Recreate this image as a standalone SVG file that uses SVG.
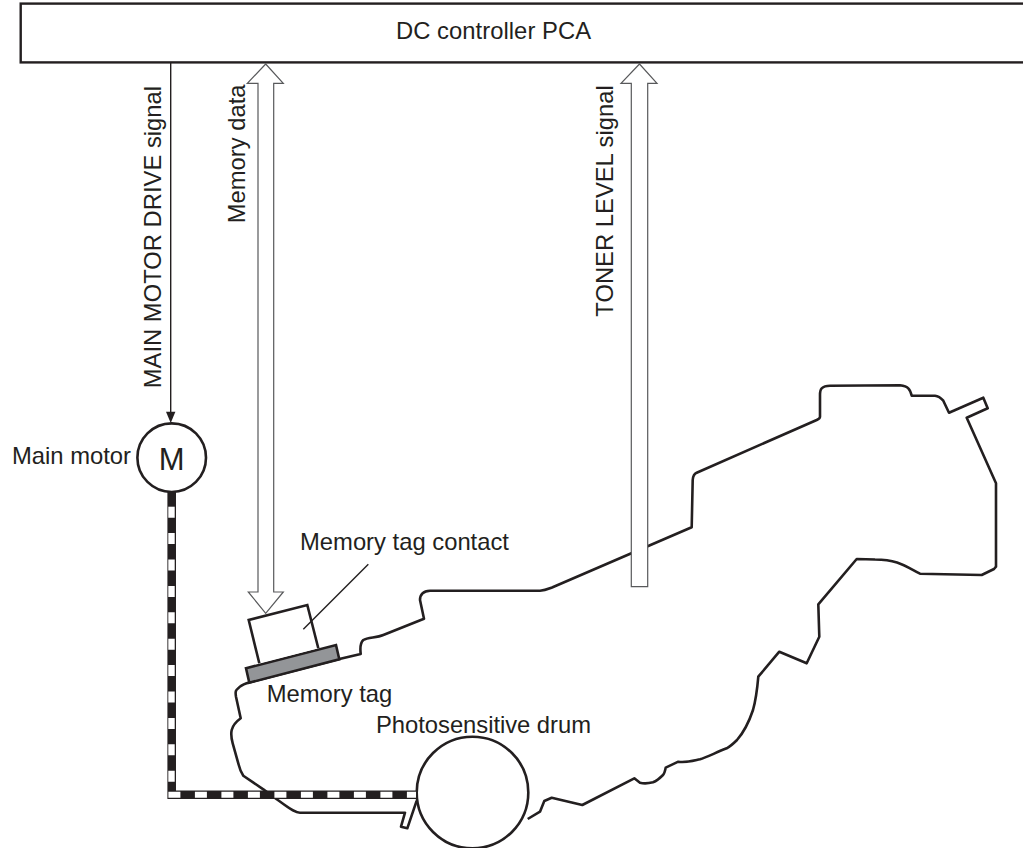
<svg xmlns="http://www.w3.org/2000/svg" width="1023" height="848" viewBox="0 0 1023 848">
<style>
text{font-family:"Liberation Sans",Arial,sans-serif;font-size:23.8px;fill:#231f20}
.ol{fill:none;stroke:#231f20;stroke-width:2.6;stroke-linejoin:round}
.hollow{fill:#fff;stroke:#58595b;stroke-width:1.2}
</style>
<rect width="1023" height="848" fill="#fff"/>
<g id="controller"><rect x="20.7" y="3.6" width="1010" height="58.8" fill="#fff" stroke="#231f20" stroke-width="2.4"/><text x="396" y="39.3" textLength="195">DC controller PCA</text></g>
<g id="cartridge"><path class="ol" d="M416.7,800.7L407.3,828.3L401,826.7L405,812.7H300C294,812.7 288,807 276.7,799.3L263.3,789.3L243.3,775.7C240,771 239,766 238.3,763.3L232.7,743.3C231,737 231,733 231.7,730C233,725 237,721 240.7,718.3L236,696.7C235,691 236,690 238.3,688.3C241,685 245,684 248.3,682.7L338.3,659.3L360.7,654C360,648 360,643 363.3,640C368,637 376,638 383.3,635L424,618.7L420,600C420,594 424,591 430,590.7H540C545,590.5 547,589.5 552,587.5L691.7,527.3L692.7,480C693,476 694,474 696.7,472.7L816.7,420C819,419 820,418 820,416.7V395C820,391 820.5,389.5 821.7,388.3C824,386 827,385.7 830,385.7L900,385.3C905,386 907,387 908.3,388.3C910,390 911,393 911.7,395.7H935C939,396 941,398 943.3,400.7L949,412.7L983.3,397.7L987.7,408.3L966.7,417.7L996,483.3V566.7L994,569L981.7,575L920,573.7C905,566 898,559.5 875,559.5L856.7,559L818.3,604.3L819.3,636.7L806.7,663.3L779.3,651.7L758.3,676.7C757,692 755,703 753,710C749,722 744,732 737,740C733,744 730,746.5 726.7,748.3C715,753 706,757.5 700,759.3C692,761 685,763 678.3,761.7L665.7,767.7C665,771 664,774 663,775C659,779 655,781.5 653,782.3C648,783.5 643,783.5 640,782.7L634.3,778.3L582.3,805L551.7,797.7L544.3,801L540,811.7L527.7,819"/></g>
<g id="drum"><circle cx="472.5" cy="792.5" r="55.8" fill="#fff" stroke="#231f20" stroke-width="2.6"/><text x="376" y="733.3" textLength="215">Photosensitive drum</text></g>
<g id="memory-tag"><path d="M246,668.3L336,645L339.3,659.3L249.3,682.7Z" fill="#939598" stroke="#231f20" stroke-width="2.6" stroke-linejoin="miter"/><text x="266.7" y="701.7">Memory tag</text></g>
<g id="memory-tag-contact"><path d="M259.3,663.3L248.7,620L307.3,605L318.3,648.3" fill="#fff" stroke="#231f20" stroke-width="2.6"/><text x="300" y="550">Memory tag contact</text></g>
<g id="main-motor"><circle cx="171.7" cy="457.7" r="34.3" fill="#fff" stroke="#231f20" stroke-width="2.6"/><text x="171.7" y="470" text-anchor="middle" style="font-size:31px">M</text><text x="12" y="464.3">Main motor</text></g>
<g id="connectors">
<path d="M171.7,492V794.7H417" fill="none" stroke="#231f20" stroke-width="8.6"/>
<path d="M171.5,506.7V789" fill="none" stroke="#fff" stroke-width="6.4" stroke-dasharray="11 15.4"/>
<path d="M168.4,794.7H416" fill="none" stroke="#fff" stroke-width="6" stroke-dasharray="12 14.5"/>
<path d="M170.7,62V412" fill="none" stroke="#231f20" stroke-width="1.4"/>
<path d="M166,411.7H175.4L170.7,423Z" fill="#231f20"/>
<path class="hollow" d="M265.7,64L283.3,83.3H273.7V592H283.3L265.7,613.3L248.3,592H258V83.3H247.3Z"/>
<path class="hollow" d="M639.5,64L657,83.3H647.7V586.7H631.3V83.3H621Z"/>
<path d="M368.3,564.3L303.3,629.3" fill="none" stroke="#231f20" stroke-width="1.4"/>
</g>
<text transform="translate(160.7,388.3) rotate(-90)">MAIN MOTOR DRIVE signal</text>
<text transform="translate(245,223.3) rotate(-90)">Memory data</text>
<text transform="translate(612.7,316.7) rotate(-90)">TONER LEVEL signal</text>
</svg>
